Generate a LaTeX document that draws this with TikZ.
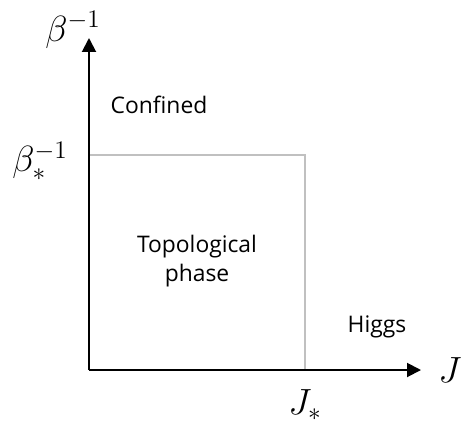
\documentclass[tikz,border=0pt]{standalone}
\usepackage{fontspec}
\setsansfont{Open Sans}
\usepackage{xcolor}
\definecolor{boundary}{HTML}{C0C0C0}
\usetikzlibrary{arrows.meta, positioning, calc}

\begin{document}
\begin{tikzpicture}[every node/.style={font=\sffamily\fontsize{13}{17}\selectfont},
  axis/.style={line width=1.1pt, -{Triangle[length=0.28cm, width=0.28cm]}},
  phaseline/.style={boundary, line width=0.8pt},
  axislabel/.style={font=\fontsize{22}{26}\selectfont}]

  \useasboundingbox (0,0) rectangle (9.28,8.48);

  % axes
  \coordinate (O) at (1.78,1.08);
  \coordinate (ytip) at (1.78,7.72);
  \coordinate (xtip) at (8.42,1.08);
  \coordinate (corner) at (6.10,5.38);

  % phase boundary
  \draw[phaseline] (O |- corner) -- (corner) -- (corner |- O);

  \draw[axis] (O) -- (ytip);
  \draw[axis] (O) -- (xtip);

  % labels
  \node[axislabel] (beta) at (1.46,7.88) {$\beta^{-1}$};
  \node[axislabel] (betastar) at (0.80,5.26) {$\beta_*^{-1}$};
  \node[axislabel] (jay) at (9.0,1.08) {$J$};
  \node[axislabel] (jstar) at (6.10,0.38) {$J_*$};

  \node (confined) at (3.18,6.38) {Confined};
  \node[align=center] (topo) at (3.94,3.26) {Topological\\phase};
  \node (higgs) at (7.54,1.94) {Higgs};
\end{tikzpicture}
\end{document}
